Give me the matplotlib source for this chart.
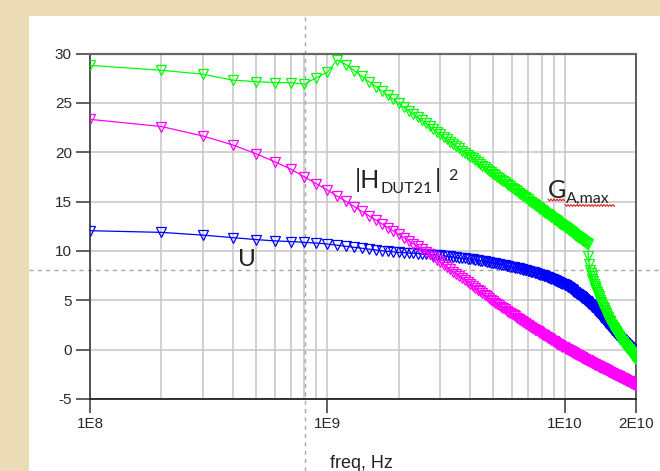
import numpy as np
import matplotlib
matplotlib.use('Agg')
import matplotlib.pyplot as plt
from matplotlib.patches import Rectangle
from matplotlib.lines import Line2D
from matplotlib.ticker import FixedLocator, FixedFormatter, NullFormatter

plt.rcParams['axes.unicode_minus'] = False

#*********** data (0.1 GHz sweep, 0.1 .. 20 GHz) ***********
freq_ghz = np.arange(1, 201) / 10.0

# G_A,max (green)
ga_max = [28.8, 28.3, 27.9, 27.3, 27.15, 27.05, 27.05, 26.9, 27.55, 28.1,
          29.35, 28.88, 28.25, 27.68, 27.15, 26.65, 26.18, 25.76, 25.35, 24.95,
          24.57, 24.21, 23.86, 23.53, 23.22, 22.91, 22.62, 22.33, 22.06, 21.80,
          21.54, 21.30, 21.06, 20.82, 20.60, 20.38, 20.17, 19.96, 19.76, 19.56,
          19.37, 19.18, 19.00, 18.82, 18.65, 18.47, 18.31, 18.14, 17.98, 17.83,
          17.67, 17.52, 17.37, 17.23, 17.09, 16.95, 16.81, 16.67, 16.54, 16.41,
          16.28, 16.15, 16.03, 15.91, 15.79, 15.67, 15.55, 15.44, 15.32, 15.21,
          15.10, 14.99, 14.88, 14.78, 14.67, 14.57, 14.47, 14.37, 14.27, 14.17,
          14.08, 13.98, 13.89, 13.79, 13.70, 13.61, 13.52, 13.43, 13.34, 13.26,
          13.17, 13.09, 13.00, 12.92, 12.84, 12.76, 12.68, 12.60, 12.52, 12.44,
          12.36, 12.28, 12.21, 12.13, 12.06, 11.99, 11.91, 11.84, 11.77, 11.70,
          11.63, 11.56, 11.49, 11.42, 11.35, 11.28, 11.22, 11.15, 11.09, 11.02,
          10.96, 10.89, 10.83, 10.77, 10.70, 9.5, 8.7, 8.1, 7.8, 7.5,
          7.2, 6.95, 6.7, 6.45, 6.25, 6.05, 5.85, 5.65, 5.45, 5.25,
          5.05, 4.87, 4.7, 4.52, 4.35, 4.18, 4.02, 3.87, 3.72, 3.57,
          3.43, 3.29, 3.15, 3.02, 2.89, 2.76, 2.64, 2.52, 2.4, 2.29,
          2.18, 2.07, 1.96, 1.86, 1.76, 1.66, 1.56, 1.46, 1.37, 1.28,
          1.19, 1.1, 1.01, 0.92, 0.84, 0.76, 0.68, 0.6, 0.52, 0.44,
          0.37, 0.3, 0.23, 0.16, 0.09, 0.02, -0.05, -0.12, -0.19, -0.26,
          -0.33, -0.4, -0.47, -0.54, -0.61, -0.68, -0.75, -0.82, -0.89, -0.96]

# |H_DUT21|^2 (magenta)
h_dut21 = [23.33, 22.6, 21.64, 20.73, 19.85, 19.04, 18.3, 17.5, 16.8, 16.17,
           15.55, 15.01, 14.49, 14.01, 13.56, 13.14, 12.74, 12.37, 12.02, 11.68,
           11.35, 11.04, 10.74, 10.45, 10.18, 9.91, 9.66, 9.39, 9.12, 8.86,
           8.61, 8.37, 8.14, 7.91, 7.69, 7.48, 7.27, 7.06, 6.85, 6.66,
           6.46, 6.28, 6.09, 5.91, 5.74, 5.56, 5.40, 5.23, 5.07, 4.91,
           4.76, 4.62, 4.48, 4.35, 4.22, 4.09, 3.96, 3.84, 3.71, 3.59,
           3.47, 3.36, 3.24, 3.13, 3.02, 2.91, 2.80, 2.70, 2.59, 2.49,
           2.39, 2.29, 2.20, 2.11, 2.02, 1.94, 1.85, 1.77, 1.69, 1.60,
           1.52, 1.44, 1.36, 1.29, 1.21, 1.13, 1.06, 0.98, 0.91, 0.84,
           0.77, 0.69, 0.62, 0.55, 0.48, 0.42, 0.35, 0.28, 0.22, 0.15,
           0.09, 0.04, -0.01, -0.07, -0.12, -0.17, -0.23, -0.28, -0.33, -0.38,
           -0.43, -0.48, -0.53, -0.58, -0.63, -0.67, -0.72, -0.77, -0.82, -0.86,
           -0.91, -0.96, -1.00, -1.05, -1.09, -1.13, -1.18, -1.22, -1.27, -1.31,
           -1.35, -1.39, -1.44, -1.48, -1.52, -1.56, -1.60, -1.64, -1.67, -1.71,
           -1.75, -1.79, -1.82, -1.86, -1.90, -1.93, -1.97, -2.01, -2.04, -2.08,
           -2.11, -2.15, -2.18, -2.22, -2.25, -2.28, -2.32, -2.35, -2.39, -2.42,
           -2.45, -2.48, -2.52, -2.55, -2.58, -2.61, -2.65, -2.68, -2.71, -2.74,
           -2.77, -2.80, -2.83, -2.86, -2.89, -2.92, -2.95, -2.98, -3.01, -3.04,
           -3.07, -3.10, -3.13, -3.16, -3.19, -3.22, -3.25, -3.27, -3.30, -3.33,
           -3.36, -3.39, -3.41, -3.44, -3.47, -3.49, -3.52, -3.55, -3.57, -3.60]

# U (blue)
u_gain = [12.05, 11.88, 11.6, 11.35, 11.15, 11.02, 10.95, 10.87, 10.8, 10.7,
          10.58, 10.48, 10.38, 10.28, 10.19, 10.1, 10.02, 9.95, 9.9, 9.85,
          9.82, 9.79, 9.76, 9.73, 9.7, 9.67, 9.64, 9.61, 9.58, 9.55,
          9.51, 9.48, 9.44, 9.4, 9.37, 9.33, 9.29, 9.25, 9.22, 9.18,
          9.14, 9.1, 9.06, 9.02, 8.98, 8.94, 8.9, 8.86, 8.82, 8.78,
          8.74, 8.7, 8.66, 8.62, 8.58, 8.54, 8.5, 8.46, 8.42, 8.38,
          8.34, 8.3, 8.26, 8.22, 8.18, 8.14, 8.1, 8.06, 8.02, 7.98,
          7.94, 7.9, 7.86, 7.82, 7.78, 7.74, 7.7, 7.65, 7.61, 7.57,
          7.52, 7.48, 7.43, 7.38, 7.34, 7.29, 7.24, 7.19, 7.14, 7.09,
          7.04, 6.99, 6.94, 6.89, 6.84, 6.79, 6.74, 6.69, 6.64, 6.59,
          6.52, 6.45, 6.38, 6.31, 6.24, 6.17, 6.1, 6.03, 5.96, 5.89,
          5.82, 5.75, 5.68, 5.61, 5.54, 5.47, 5.4, 5.33, 5.26, 5.19,
          5.12, 5.04, 4.97, 4.89, 4.82, 4.74, 4.67, 4.59, 4.52, 4.44,
          4.36, 4.27, 4.19, 4.1, 4.02, 3.93, 3.85, 3.76, 3.68, 3.59,
          3.51, 3.42, 3.34, 3.25, 3.17, 3.08, 3.0, 2.91, 2.83, 2.74,
          2.66, 2.58, 2.5, 2.42, 2.34, 2.26, 2.18, 2.1, 2.02, 1.94,
          1.87, 1.8, 1.73, 1.66, 1.59, 1.52, 1.45, 1.38, 1.31, 1.24,
          1.18, 1.12, 1.06, 1.0, 0.94, 0.88, 0.82, 0.76, 0.7, 0.64,
          0.58, 0.52, 0.46, 0.4, 0.34, 0.28, 0.22, 0.16, 0.1, 0.04,
          -0.02, -0.07, -0.13, -0.18, -0.24, -0.29, -0.35, -0.4, -0.46, -0.51]

xtick_vals = [1e8, 1e9, 1e10, 2e10]
xtick_labels = ['1E8', '1E9', '1E10', '2E10']
ytick_vals = [-5, 0, 5, 10, 15, 20, 25, 30]
#*********** end of data ***********

W, H = 660., 471.
def fx(x):
    return x / W
def fy(y):
    return 1 - y / H

freq = freq_ghz * 1e9

fig = plt.figure(figsize=(6.6, 4.71), dpi=100)
fig.patch.set_facecolor('#ecdcb5')
fig.add_artist(Rectangle((fx(29), 0), 1 - fx(29), fy(16), transform=fig.transFigure,
                         facecolor='white', edgecolor='none', zorder=-5))

ax = fig.add_axes([fx(90), fy(399), fx(636) - fx(90), fy(53.5) - fy(399)])
ax.set_facecolor('white')

ax.plot(freq, u_gain, color='#0000ff', lw=0.9, marker='v', ms=6.5, mfc='none', mew=0.9, zorder=3)
ax.plot(freq, h_dut21, color='#ff00ff', lw=0.9, marker='v', ms=6.5, mfc='none', mew=0.9, zorder=3)
ax.plot(freq, ga_max, color='#00ff00', lw=0.9, marker='v', ms=6.5, mfc='none', mew=0.9, zorder=3)

ax.set_xscale('log')
ax.set_xlim(1e8, 2e10)
ax.set_ylim(-5, 30)
ax.xaxis.set_major_locator(FixedLocator(xtick_vals))
ax.xaxis.set_major_formatter(FixedFormatter(xtick_labels))
minor = [m * d for d in (1e8, 1e9) for m in range(2, 10)]
ax.xaxis.set_minor_locator(FixedLocator(minor))
ax.xaxis.set_minor_formatter(NullFormatter())
ax.set_yticks(ytick_vals)

ax.grid(True, which='both', color='#c9c9c9', lw=1.2)
ax.set_axisbelow(True)
ax.tick_params(axis='both', which='major', direction='out', length=10, width=1.2,
               color='#444444', labelsize=11, labelcolor='#2a2a2a', pad=3)
ax.tick_params(axis='x', which='minor', length=0)
for lab in ax.get_xticklabels() + ax.get_yticklabels():
    lab.set_family(['Liberation Sans', 'DejaVu Sans'])

for side, col, lw in (('left', '#444444', 1.3), ('bottom', '#222222', 1.3),
                      ('top', '#666666', 1.6), ('right', '#444444', 1.2)):
    ax.spines[side].set_color(col)
    ax.spines[side].set_linewidth(lw)

# cursor cross-hair (dashed)
for xs, ys in (([fx(305), fx(305)], [0, fy(16)]), ([fx(29), 1], [fy(269.7), fy(269.7)])):
    ln = Line2D(xs, ys, transform=fig.transFigure, color='#a8a8a8', lw=1.0,
                linestyle=(0, (3, 3)), zorder=1.5)
    ln.set_clip_on(False)
    ax.add_artist(ln)

fig.text(fx(361), fy(455), 'freq, Hz', ha='center', va='top', fontsize=13,
         color='#222222', family=['Liberation Sans', 'DejaVu Sans'])

# curve annotations
fam = ['Lato', 'DejaVu Sans']
tc = '#222222'
fig.text(fx(238), fy(266), 'U', fontsize=17.5, family=fam, color=tc, va='baseline')
fig.text(fx(355), fy(188.5), '|H', fontsize=18, family=fam, color=tc, va='baseline')
fig.text(fx(380), fy(193.3), 'DUT21', fontsize=11.5, family=fam, color=tc, va='baseline')
fig.text(fx(435), fy(188.5), '|', fontsize=18, family=fam, color=tc, va='baseline')
fig.text(fx(448), fy(180), '2', fontsize=11.5, family=fam, color=tc, va='baseline')
fig.text(fx(548), fy(198.3), 'G', fontsize=18, family=fam, color=tc, va='baseline')
fig.text(fx(565.5), fy(203.3), 'A,max', fontsize=11.5, family=fam, color=tc, va='baseline')

# red spell-check squiggle under G_A,max
for x0, x1, yc in ((548, 565, 200.0), (565, 615, 205.5)):
    xs = np.arange(x0, x1 + 0.1, 1.5)
    ys = yc + np.where(np.arange(len(xs)) % 2 == 0, -0.9, 0.9)
    fig.add_artist(Line2D(fx(xs), fy(ys), transform=fig.transFigure,
                          color='#e02020', lw=0.8, zorder=5))

fig.savefig('out.png', dpi=100, facecolor=fig.get_facecolor())
